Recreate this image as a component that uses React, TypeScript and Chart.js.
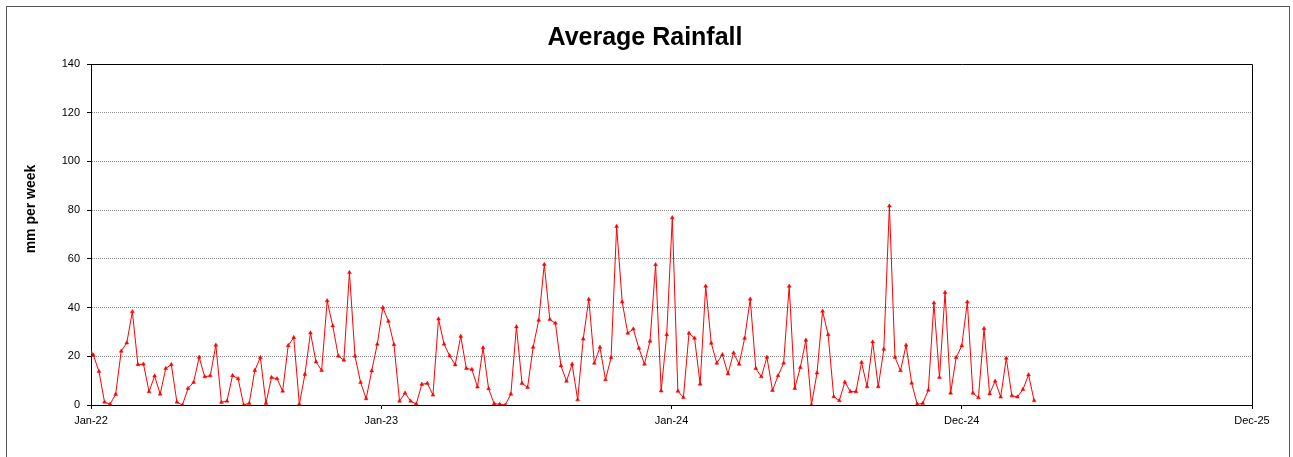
import React, { useEffect, useRef } from 'react';
import { Chart, registerables } from 'chart.js';

Chart.register(...registerables);

const chartTitle = 'Average Rainfall';
const yAxisTitle = 'mm per week';
const xTickDays = [0, 365, 730, 1095, 1460];
const xTickLabels = ['Jan-22', 'Jan-23', 'Jan-24', 'Dec-24', 'Dec-25'];
const yMin = 0;
const yMax = 140;
const yStep = 20;

// day offsets (from 1 Jan 2022): first reading, then weekly readings
const firstReadingDay = 0;
const firstWeeklyDay = 3;
const daysPerWeek = 7;

// mm per week
const rainfall = [
  21.5, 20.5, 13.8, 1.2, 0.3, 4.4, 22.1, 25.5, 38.3, 16.6,
  16.8, 5.5, 11.9, 4.5, 15.0, 16.6, 1.2, 0, 6.8, 9.3,
  19.6, 11.6, 12.0, 24.6, 1.1, 1.6, 12.1, 10.8, 0, 0.7,
  14.2, 19.5, 0.7, 11.3, 10.8, 5.7, 24.4, 27.7, 0.3, 12.6,
  29.6, 17.7, 14.2, 42.8, 32.5, 20.1, 18.4, 54.4, 20.1, 9.3,
  2.6, 14.0, 25.0, 40.0, 34.4, 24.8, 1.6, 4.9, 1.6, 0.4,
  8.5, 8.9, 4.1, 35.3, 25.0, 20.2, 16.5, 28.2, 15.0, 14.6,
  7.4, 23.5, 6.7, 0.5, 0.3, 0, 4.5, 32.1, 8.9, 7.2,
  23.7, 34.8, 57.7, 35.1, 33.6, 16.1, 9.8, 16.8, 2.2, 27.1,
  43.4, 17.2, 23.7, 10.4, 19.4, 73.3, 42.3, 29.5, 31.2, 23.3,
  16.8, 26.2, 57.6, 5.8, 28.9, 76.9, 5.7, 3.1, 29.5, 27.4,
  8.6, 48.8, 25.4, 17.2, 20.7, 12.8, 21.4, 16.8, 27.4, 43.5,
  15.0, 11.6, 19.6, 6.0, 12.0, 17.2, 48.8, 6.8, 15.4, 26.6,
  0, 13.2, 38.5, 28.9, 3.4, 1.8, 9.4, 5.5, 5.5, 17.5,
  7.5, 25.9, 7.5, 22.9, 81.7, 19.6, 14.1, 24.6, 9.0, 0.3,
  0.7, 6.1, 41.9, 11.3, 46.2, 4.9, 19.5, 24.3, 42.3, 4.9,
  3.0, 31.4, 4.6, 9.8, 3.3, 19.2, 3.8, 3.3, 6.4, 12.4,
  1.8,
];

const readingDays = rainfall.map((_, i) =>
  i === 0 ? firstReadingDay : firstWeeklyDay + (i - 1) * daysPerWeek
);

const FONT = '"Liberation Sans", Arial, Helvetica, sans-serif';

const decorPlugin = {
  id: 'decor',
  beforeDraw(chart: any) {
    const { ctx, width, height } = chart;
    ctx.save();
    ctx.fillStyle = '#ffffff';
    ctx.fillRect(0, 0, width, height);
    ctx.restore();
  },
  afterDraw(chart: any) {
    const { ctx, chartArea } = chart;
    ctx.save();
    // outer chart border
    ctx.strokeStyle = '#555555';
    ctx.lineWidth = 1;
    ctx.strokeRect(6.5, 6.5, 1283, 520);
    // plot area frame
    ctx.strokeStyle = '#000000';
    ctx.beginPath();
    ctx.moveTo(Math.round(chartArea.left) + 0.5, Math.round(chartArea.top) + 0.5);
    ctx.lineTo(Math.round(chartArea.right) + 0.5, Math.round(chartArea.top) + 0.5);
    ctx.lineTo(Math.round(chartArea.right) + 0.5, Math.round(chartArea.bottom) + 0.5);
    ctx.stroke();
    // title
    ctx.fillStyle = '#000000';
    ctx.font = `bold 25px ${FONT}`;
    ctx.textAlign = 'center';
    ctx.textBaseline = 'alphabetic';
    ctx.fillText(chartTitle, 645, 45);
    // y axis title
    ctx.translate(31, 209);
    ctx.rotate(-Math.PI / 2);
    ctx.font = `bold 14px ${FONT}`;
    ctx.textBaseline = 'middle';
    ctx.fillText(yAxisTitle, 0, 0);
    ctx.restore();
  },
};

export default function App() {
  const canvasRef = useRef<HTMLCanvasElement | null>(null);

  useEffect(() => {
    const canvas = canvasRef.current;
    if (!canvas) return;
    const points = rainfall.map((v, i) => ({ x: readingDays[i], y: v }));
    const chart = new Chart(canvas, {
      type: 'line',
      data: {
        datasets: [
          {
            data: points,
            borderColor: '#ff0000',
            backgroundColor: '#ff0000',
            borderWidth: 1,
            tension: 0,
            fill: false,
            pointStyle: 'triangle',
            pointRadius: 2.2,
            pointBorderWidth: 0.5,
            pointBackgroundColor: '#ff0000',
            pointBorderColor: '#ff0000',
          },
        ],
      },
      options: {
        responsive: false,
        animation: false,
        devicePixelRatio: 1,
        layout: { padding: { left: 0, right: 41, top: 64, bottom: 0 } },
        plugins: {
          legend: { display: false },
          title: { display: false },
          tooltip: { enabled: false },
        },
        scales: {
          x: {
            type: 'linear',
            min: xTickDays[0],
            max: xTickDays[xTickDays.length - 1],
            afterBuildTicks: (scale: any) => {
              scale.ticks = xTickDays.map((v) => ({ value: v }));
            },
            afterFit: (scale: any) => {
              scale.height = 52;
            },
            ticks: {
              autoSkip: false,
              maxRotation: 0,
              minRotation: 0,
              padding: 5,
              color: '#000000',
              font: { family: FONT, size: 11 },
              callback: (value: any) => {
                const idx = xTickDays.indexOf(Number(value));
                return idx >= 0 ? xTickLabels[idx] : '';
              },
            },
            grid: {
              drawOnChartArea: false,
              drawTicks: true,
              tickLength: 4,
              tickColor: '#000000',
            },
            border: { display: true, color: '#000000', width: 1 },
          },
          y: {
            type: 'linear',
            min: yMin,
            max: yMax,
            afterFit: (scale: any) => {
              scale.width = 91;
            },
            ticks: {
              stepSize: yStep,
              padding: 7,
              color: '#000000',
              font: { family: FONT, size: 11 },
            },
            grid: {
              drawTicks: true,
              tickLength: 4,
              tickColor: '#000000',
              lineWidth: 1,
              color: (ctx: any) => {
                const v = ctx.tick ? ctx.tick.value : null;
                return v === yMin || v === yMax ? 'rgba(0,0,0,0)' : '#8a8a8a';
              },
            },
            border: { display: true, color: '#000000', width: 1, dash: [1, 1] },
          },
        },
      },
      plugins: [decorPlugin],
    } as any);
    return () => chart.destroy();
  }, []);

  return (
    <div style={{ position: 'absolute', left: 0, top: 0, width: 1293, height: 457, background: '#fff' }}>
      <canvas ref={canvasRef} width={1293} height={457} style={{ display: 'block', width: 1293, height: 457 }} />
    </div>
  );
}
